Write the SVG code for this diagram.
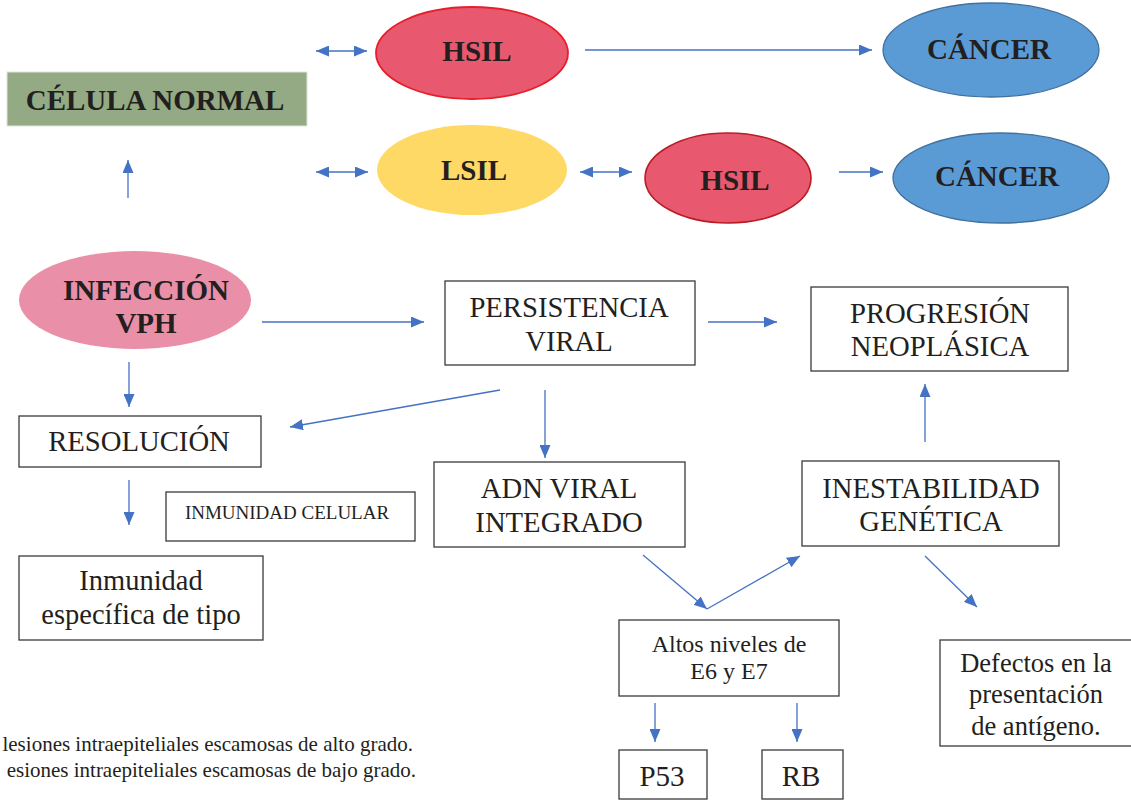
<svg xmlns="http://www.w3.org/2000/svg" width="1131" height="800" viewBox="0 0 1131 800">
<style>
.t{font-family:"Liberation Serif","Times New Roman",serif;fill:#231f20;text-anchor:middle}
.b{font-weight:bold;font-size:29px}
.r{font-size:28.7px}
.box{fill:#fff;stroke:#3a3a3a;stroke-width:1.3}
.c line{stroke:#4472c4;stroke-width:1.3;marker-end:url(#ah)}
.c line.d{marker-start:url(#ah)}
</style>
<defs>
<marker id="ah" markerUnits="userSpaceOnUse" markerWidth="13" markerHeight="11" refX="13" refY="5.5" orient="auto-start-reverse">
<path d="M0,0 L13,5.5 L0,11 z" fill="#4472c4"/>
</marker>
</defs>
<rect width="1131" height="800" fill="#fff"/>

<g id="celula-normal">
<rect x="7" y="72" width="300" height="54" fill="#93aa84" stroke="#dfe6da" stroke-width="1"/>
<text class="t b" x="155" y="110">CÉLULA NORMAL</text>
</g>
<g id="hsil-1">
<ellipse cx="472" cy="53" rx="96" ry="46" fill="#e8596f" stroke="#e5202a" stroke-width="1.8"/>
<text class="t b" x="477" y="61">HSIL</text>
</g>
<g id="cancer-1">
<ellipse cx="991" cy="50" rx="108" ry="47" fill="#5b9bd5" stroke="#41719c" stroke-width="1.3"/>
<text class="t b" x="989" y="59">CÁNCER</text>
</g>
<g id="lsil">
<ellipse cx="472" cy="170" rx="95" ry="45" fill="#ffd966"/>
<text class="t b" x="474" y="180">LSIL</text>
</g>
<g id="hsil-2">
<ellipse cx="728" cy="178" rx="83" ry="45" fill="#e8596f" stroke="#b81d25" stroke-width="1.6"/>
<text class="t b" x="735" y="190">HSIL</text>
</g>
<g id="cancer-2">
<ellipse cx="1001" cy="178" rx="108" ry="45" fill="#5b9bd5" stroke="#41719c" stroke-width="1.3"/>
<text class="t b" x="997" y="186">CÁNCER</text>
</g>
<g id="infeccion-vph">
<ellipse cx="135" cy="300" rx="116" ry="49" fill="#ea8fa8"/>
<text class="t b" x="146" y="300">INFECCIÓN</text>
<text class="t b" x="146" y="333">VPH</text>
</g>
<g id="persistencia-viral">
<rect class="box" x="445" y="281" width="250" height="84"/>
<text class="t r" x="569" y="317">PERSISTENCIA</text>
<text class="t r" x="569" y="351">VIRAL</text>
</g>
<g id="progresion-neoplasica">
<rect class="box" x="811" y="287" width="257" height="84"/>
<text class="t r" x="940" y="323">PROGRESIÓN</text>
<text class="t r" x="940" y="356">NEOPLÁSICA</text>
</g>
<g id="resolucion">
<rect class="box" x="19" y="416" width="242" height="51"/>
<text class="t r" x="139" y="451">RESOLUCIÓN</text>
</g>
<g id="adn-viral">
<rect class="box" x="434" y="462" width="251" height="85"/>
<text class="t r" x="559" y="498">ADN VIRAL</text>
<text class="t r" x="559" y="532">INTEGRADO</text>
</g>
<g id="inestabilidad">
<rect class="box" x="802" y="461" width="257" height="85"/>
<text class="t r" x="931" y="498">INESTABILIDAD</text>
<text class="t r" x="931" y="531">GENÉTICA</text>
</g>
<g id="inmunidad-celular">
<rect class="box" x="166" y="492" width="249" height="49"/>
<text class="t" x="287" y="519" font-size="19">INMUNIDAD CELULAR</text>
</g>
<g id="inmunidad-especifica">
<rect class="box" x="19" y="556" width="244" height="84"/>
<text class="t" x="141" y="590" font-size="28.5">Inmunidad</text>
<text class="t" x="141" y="624" font-size="28.5">específica de tipo</text>
</g>
<g id="altos-niveles">
<rect class="box" x="619" y="620" width="220" height="76"/>
<text class="t" x="729" y="652" font-size="24">Altos niveles de</text>
<text class="t" x="729" y="679" font-size="24">E6 y E7</text>
</g>
<g id="defectos">
<rect class="box" x="940" y="640" width="194" height="106"/>
<text class="t" x="1036" y="672" font-size="26.5">Defectos en la</text>
<text class="t" x="1036" y="703" font-size="26.5">presentación</text>
<text class="t" x="1036" y="735" font-size="26.5">de antígeno.</text>
</g>
<g id="p53">
<rect class="box" x="619" y="750" width="88" height="49"/>
<text class="t" x="662" y="786" font-size="29">P53</text>
</g>
<g id="rb">
<rect class="box" x="762" y="750" width="81" height="49"/>
<text class="t" x="801" y="786" font-size="29">RB</text>
</g>

<g id="legend" font-family="Liberation Serif, Times New Roman, serif" font-size="21" fill="#231f20" text-anchor="end">
<text x="413" y="751">lesiones intraepiteliales escamosas de alto grado.</text>
<text x="416" y="777">esiones intraepiteliales escamosas de bajo grado.</text>
</g>

<g id="connectors" class="c">
<line class="d" x1="316" y1="51" x2="367" y2="51"/>
<line class="d" x1="316" y1="172" x2="368" y2="172"/>
<line x1="128" y1="198" x2="128" y2="160"/>
<line x1="585" y1="50" x2="872" y2="50"/>
<line class="d" x1="580" y1="172" x2="632" y2="172"/>
<line x1="839" y1="172" x2="883" y2="172"/>
<line x1="262" y1="322" x2="424" y2="322"/>
<line x1="708" y1="322" x2="777" y2="322"/>
<line x1="925" y1="442" x2="925" y2="384"/>
<line x1="129" y1="362" x2="129" y2="407"/>
<line x1="500" y1="390" x2="290" y2="427"/>
<line x1="545" y1="390" x2="545" y2="458"/>
<line x1="129" y1="480" x2="129" y2="525"/>
<line x1="643" y1="555" x2="707" y2="609"/>
<line x1="707" y1="609" x2="800" y2="556"/>
<line x1="925" y1="556" x2="977" y2="607"/>
<line x1="655" y1="703" x2="655" y2="742"/>
<line x1="797" y1="703" x2="797" y2="742"/>
</g>
</svg>
